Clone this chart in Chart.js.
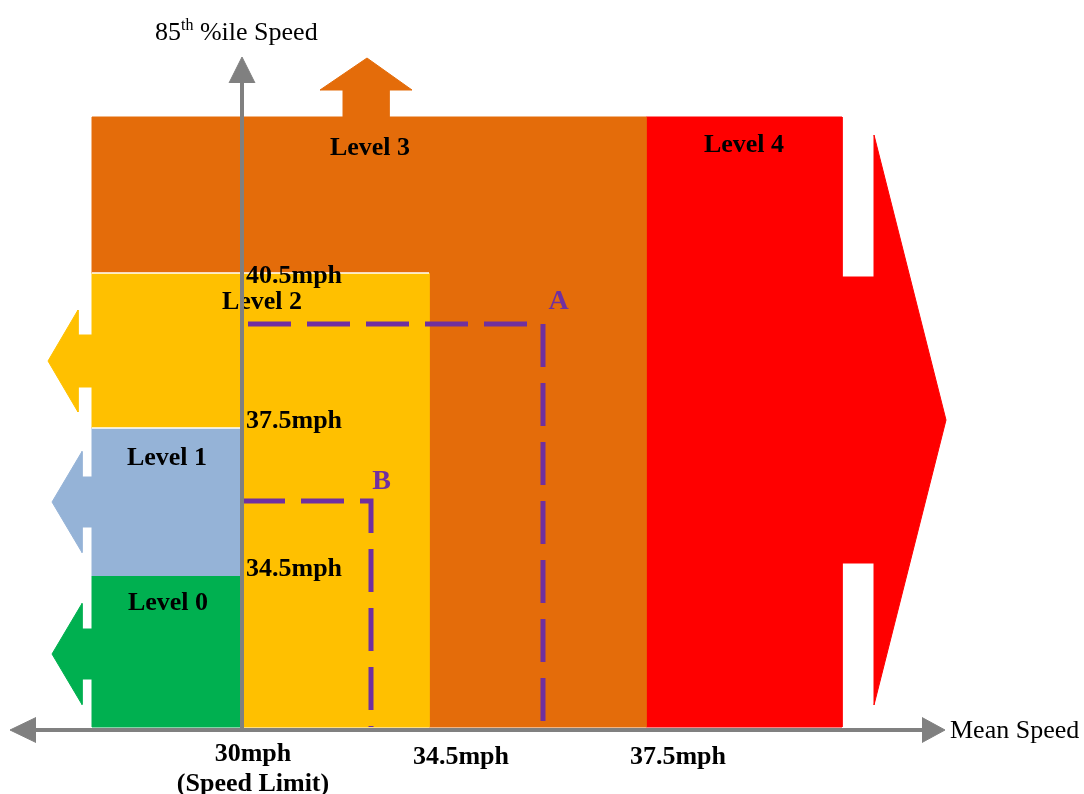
<!DOCTYPE html>
<html>
<head>
<meta charset="utf-8">
<title>Speed levels</title>
<script src="https://cdn.jsdelivr.net/npm/chart.js@4.4.1/dist/chart.umd.min.js"></script>
<style>
  html, body { margin: 0; padding: 0; background: #fff; }
  #wrap { width: 1084px; height: 794px; position: relative; }
</style>
</head>
<body>
<div id="wrap"><canvas id="chart"></canvas></div>
<script>
// diagram units, origin where the two axes cross (the schematic is not to mph scale)
const levelNames = ['Level 0', 'Level 1', 'Level 2', 'Level 3', 'Level 4'];
const meanSpeedTicks = ['30mph', '34.5mph', '37.5mph'];
const meanSpeedAt = [0, 18.7, 40.4];
const p85Ticks = ['34.5mph', '37.5mph', '40.5mph'];
const p85At = [15.4, 30.2, 45.7];
const exampleNames = ['A', 'B'];
const exampleMean = [30.1, 12.9];
const exampleP85 = [40.6, 22.9];
const zoneLeft = -15.0, zoneRight = 60.0, zoneBase = 0.3, zoneTop = 61.3;

const levelColors = ['#00B050', '#95B3D7', '#FFC000', '#E46C0A', '#FF0000'];
const axisGrey = '#808080';
const purple = '#7030A0';

const [X0, X1, X2] = meanSpeedAt;
const [Y1, Y2, Y3] = p85At;

function pts(list) {
  return list.map(([x, y]) => ({ x, y }));
}

// arrow pointing left off the left edge of a zone, listed bottom to top
function leftArrow(cy, baseX, tipX, headH, shaftH) {
  return [
    [zoneLeft, cy - shaftH], [baseX, cy - shaftH], [baseX, cy - headH],
    [tipX, cy],
    [baseX, cy + headH], [baseX, cy + shaftH], [zoneLeft, cy + shaftH]
  ];
}

const levelShapes = [
  [[X0, Y1], [X0, zoneBase], [zoneLeft, zoneBase], ...leftArrow(7.6, -16.0, -19.0, 5.05, 2.5), [zoneLeft, Y1]],
  [[X0, Y2], [X0, Y1], [zoneLeft, Y1], ...leftArrow(22.8, -16.0, -19.0, 5.05, 2.5), [zoneLeft, Y2]],
  [[X1, Y3], [X1, zoneBase], [X0, zoneBase], [X0, Y2], [zoneLeft, Y2], ...leftArrow(36.9, -16.4, -19.4, 5.1, 2.6), [zoneLeft, Y3]],
  [[zoneLeft, Y3], [zoneLeft, zoneTop], [10.1, zoneTop], [10.1, 64.0], [7.8, 64.0], [12.5, 67.2], [17.0, 64.0],
   [14.7, 64.0], [14.7, zoneTop], [X2, zoneTop], [X2, zoneBase], [X1, zoneBase], [X1, Y3]],
  [[X2, zoneTop], [zoneRight, zoneTop], [zoneRight, 45.3], [63.2, 45.3], [63.2, 59.5], [70.4, 31.0],
   [63.2, 2.5], [63.2, 16.7], [zoneRight, 16.7], [zoneRight, zoneBase], [X2, zoneBase]]
];

function shapeDataset(label, points, color, order) {
  return {
    label, data: pts(points), order,
    showLine: true, fill: 'shape', tension: 0,
    backgroundColor: color, borderColor: color, borderWidth: 1, borderJoinStyle: 'bevel',
    pointRadius: 0
  };
}

function lineDataset(label, points, color, width, order, dash) {
  return {
    label, data: pts(points), order,
    showLine: true, fill: false, tension: 0,
    borderColor: color, borderWidth: width, borderDash: dash || [],
    pointRadius: 0
  };
}

const datasets = [];
// axes on top
datasets.push(lineDataset('y axis', [[0, 0], [0, 65.0]], axisGrey, 4, 0));
datasets.push(shapeDataset('y head', [[-1.3, 64.7], [0, 67.3], [1.3, 64.7]], axisGrey, 0));
datasets.push(lineDataset('x axis', [[-20.8, 0], [68.2, 0]], axisGrey, 4, 0));
datasets.push(shapeDataset('x head left', [[-20.6, 1.25], [-23.2, 0], [-20.6, -1.25]], axisGrey, 0));
datasets.push(shapeDataset('x head right', [[68.0, 1.25], [70.3, 0], [68.0, -1.25]], axisGrey, 0));
// dashed guides for the two example sites
const guideStart = [0.6, 0.0];
exampleNames.forEach((name, i) => {
  datasets.push(lineDataset('site ' + name,
    [[guideStart[i], exampleP85[i]], [exampleMean[i], exampleP85[i]], [exampleMean[i], zoneBase]],
    purple, 5, 1, [43, 16]));
});
// thin white edges between zones, then the zones themselves
datasets.push(lineDataset('zone-edges', [[zoneLeft, Y3], [X1, Y3]], '#ffffff', 1.5, 2));
datasets.push(lineDataset('zone-edges-2', [[zoneLeft, Y2], [X0, Y2]], '#ffffff', 1.5, 2));
levelNames.forEach((name, i) => {
  datasets.push(shapeDataset(name, levelShapes[i], levelColors[i], 2));
});

const serif = '"Liberation Serif", "Times New Roman", serif';
const boldFont = 'bold 26px ' + serif;
const texts = [
  // text, x, y, align
  ['Level 3', 12.8, 58.15, 'center'],
  ['Level 4', (X2 + zoneRight) / 2, 58.45, 'center'],
  ['Level 2', 2.0, 42.75, 'center'],
  ['Level 1', -7.5, 27.15, 'center'],
  ['Level 0', -7.4, 12.65, 'center'],
  [p85Ticks[2], 0.4, 45.4, 'left'],
  [p85Ticks[1], 0.4, 30.85, 'left'],
  [p85Ticks[0], 0.4, 16.05, 'left'],
  [meanSpeedTicks[0], X0 + 1.1, -2.45, 'center'],
  ['(Speed Limit)', X0 + 1.1, -5.45, 'center'],
  [meanSpeedTicks[1], X1 + 3.2, -2.75, 'center'],
  [meanSpeedTicks[2], X2 + 3.2, -2.75, 'center']
];

const textPlugin = {
  id: 'diagramText',
  afterDatasetDraw(chart, args) {
    if (chart.data.datasets[args.index].label !== 'zone-edges') return;
    const { ctx } = chart;
    const sx = chart.scales.x, sy = chart.scales.y;
    ctx.save();
    ctx.fillStyle = '#000';
    ctx.font = boldFont;
    ctx.textBaseline = 'middle';
    texts.forEach(([t, x, y, align]) => {
      ctx.textAlign = align;
      ctx.fillText(t, sx.getPixelForValue(x), sy.getPixelForValue(y));
    });
    // site letters
    ctx.fillStyle = purple;
    ctx.font = 'bold 28px ' + serif;
    ctx.textAlign = 'center';
    const letterOffset = [[1.55, 2.2], [1.05, 1.95]];
    exampleNames.forEach((name, i) => {
      ctx.fillText(name, sx.getPixelForValue(exampleMean[i] + letterOffset[i][0]),
        sy.getPixelForValue(exampleP85[i] + letterOffset[i][1]));
    });
    // axis titles
    ctx.fillStyle = '#000';
    ctx.font = '26px ' + serif;
    ctx.textAlign = 'left';
    ctx.fillText('Mean Speed', sx.getPixelForValue(70.8), sy.getPixelForValue(-0.1));
    ctx.textBaseline = 'alphabetic';
    let px = sx.getPixelForValue(-8.7);
    const base = sy.getPixelForValue(69.0);
    ctx.fillText('85', px, base);
    px += ctx.measureText('85').width;
    ctx.font = '16px ' + serif;
    ctx.fillText('th', px, base - 10);
    px += ctx.measureText('th').width;
    ctx.font = '26px ' + serif;
    ctx.fillText(' %ile Speed', px, base);
    ctx.restore();
  }
};

new Chart(document.getElementById('chart'), {
  type: 'scatter',
  data: { datasets },
  options: {
    responsive: true,
    maintainAspectRatio: false,
    animation: false,
    events: [],
    layout: { padding: 0 },
    plugins: { legend: { display: false }, tooltip: { enabled: false } },
    scales: {
      x: { type: 'linear', min: -24.2, max: 84.2, display: false },
      y: { type: 'linear', min: -6.4, max: 73.0, display: false }
    }
  },
  plugins: [textPlugin]
});
</script>
</body>
</html>
